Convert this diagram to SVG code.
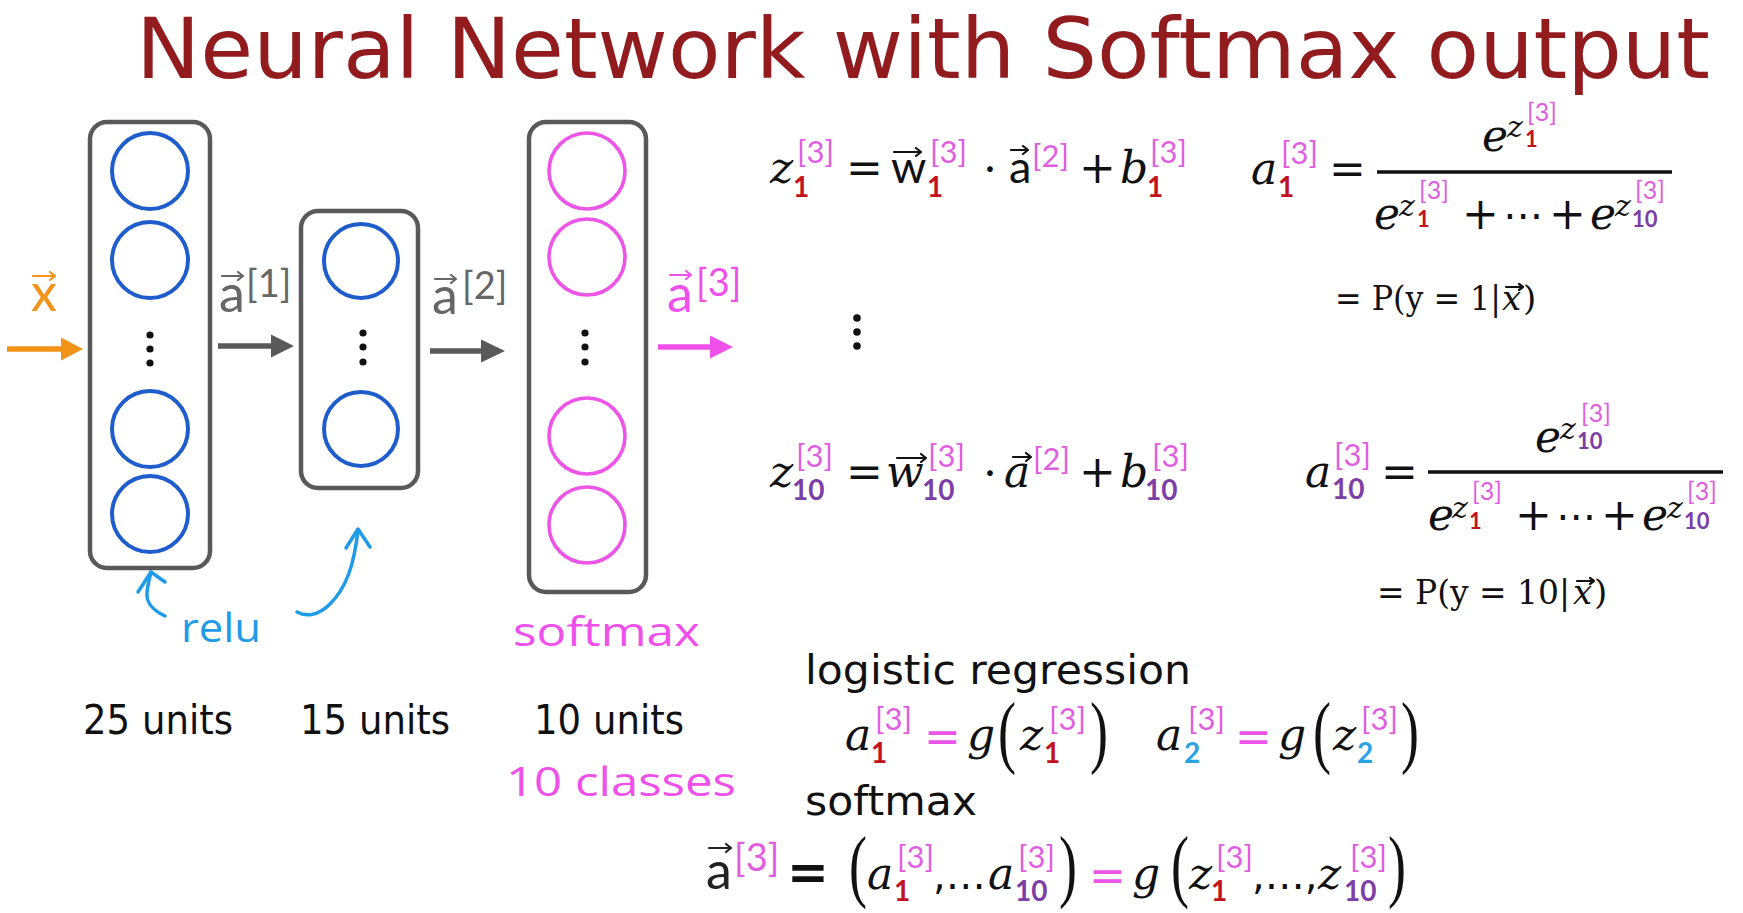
<svg xmlns="http://www.w3.org/2000/svg" width="1743" height="913" viewBox="0 0 1743 913">
<defs>
<style>
.box{fill:none;stroke:#595959;stroke-width:4.5}
.nb{fill:none;stroke:#1f5ccc;stroke-width:4}
.nm{fill:none;stroke:#ec55e6;stroke-width:3.6}
.dot{fill:#111}
.lbl{font-family:Lato,"Liberation Sans",sans-serif;font-size:52px}
.lsup{font-family:Lato,"Liberation Sans",sans-serif;font-size:38px}
.units{font-family:"DejaVu Sans",Verdana,sans-serif;font-size:40px;fill:#111}
.hand{font-family:"Open Sans",sans-serif;font-size:40px}
.mi{font-family:"DejaVu Serif",serif;font-style:italic;font-size:44px;fill:#111}
.mu{font-family:"DejaVu Serif",serif;font-size:44px;fill:#111}
.ms{font-family:Lato,sans-serif;font-size:45px;fill:#111}
.sb{font-family:Lato,sans-serif;font-weight:bold;font-size:28px}
.sp{font-family:Lato,sans-serif;font-size:31px;fill:#e05ee0}
.r{fill:#c1121f}.p{fill:#7b3fa6}.b2{fill:#29a3e6}
.ei{font-family:"DejaVu Serif",serif;font-style:italic;font-size:30px;fill:#111}
.es{font-family:Lato,sans-serif;font-weight:bold;font-size:22px}
.ep{font-family:Lato,sans-serif;font-size:25px;fill:#e05ee0}
.par{font-family:"Liberation Serif",serif;font-size:54px;fill:#111}
.pu{font-family:"DejaVu Serif",serif;font-size:34px;fill:#111}
.pi{font-family:"DejaVu Serif",serif;font-style:italic;font-size:34px;fill:#111}
.vec{fill:none;stroke-width:2.2;stroke-linecap:round;stroke-linejoin:round}
.eqm{font-family:"DejaVu Sans",sans-serif;font-size:44px;fill:#ea55e8}
.ell{font-family:"DejaVu Sans",sans-serif;font-size:40px;fill:#111}
</style>
</defs>
<rect width="1743" height="913" fill="#ffffff"/>

<text id="title" x="136" y="78" font-family="DejaVu Sans, Verdana, sans-serif" font-size="84" fill="#921b1e" textLength="1574" lengthAdjust="spacingAndGlyphs">Neural Network with Softmax output</text>

<g id="layer1">
<rect class="box" x="90" y="122" width="120" height="446" rx="17"/>
<circle class="nb" cx="150" cy="171" r="38"/>
<circle class="nb" cx="150" cy="260" r="38"/>
<circle class="dot" cx="150" cy="335" r="3.6"/>
<circle class="dot" cx="150" cy="349" r="3.6"/>
<circle class="dot" cx="150" cy="363" r="3.6"/>
<circle class="nb" cx="150" cy="429" r="38"/>
<circle class="nb" cx="150" cy="514" r="38"/>
</g>
<g id="layer2">
<rect class="box" x="301" y="211" width="117" height="277" rx="17"/>
<circle class="nb" cx="361" cy="261" r="37"/>
<circle class="dot" cx="363" cy="333" r="3.6"/>
<circle class="dot" cx="363" cy="347" r="3.6"/>
<circle class="dot" cx="363" cy="362" r="3.6"/>
<circle class="nb" cx="361" cy="429" r="37"/>
</g>
<g id="layer3">
<rect class="box" x="529" y="122" width="117" height="470" rx="17"/>
<circle class="nm" cx="587" cy="171" r="38"/>
<circle class="nm" cx="587" cy="257" r="38"/>
<circle class="dot" cx="585" cy="333" r="3.6"/>
<circle class="dot" cx="585" cy="347" r="3.6"/>
<circle class="dot" cx="585" cy="362" r="3.6"/>
<circle class="nm" cx="587" cy="436" r="38"/>
<circle class="nm" cx="587" cy="525" r="38"/>
</g>

<g id="connectors">
<line x1="7" y1="349" x2="64" y2="349" stroke="#f39219" stroke-width="5.5"/>
<polygon points="61,337.5 83,349 61,360.5" fill="#f39219"/>
<line x1="218" y1="346" x2="274" y2="346" stroke="#595959" stroke-width="5.5"/>
<polygon points="271,334.5 294,346 271,357.5" fill="#595959"/>
<line x1="430" y1="351" x2="484" y2="351" stroke="#595959" stroke-width="5.5"/>
<polygon points="481,339.5 505,351 481,362.5" fill="#595959"/>
<line x1="658" y1="347" x2="713" y2="347" stroke="#f050ea" stroke-width="5.5"/>
<polygon points="710,335.5 733,347 710,358.5" fill="#f050ea"/>
<g fill="none" stroke="#1f9be8" stroke-width="3.5" stroke-linecap="round" stroke-linejoin="round">
<path d="M165 616 C152 610 146 603 147 592 C148 583 150 577 151 572"/>
<path d="M138 592 L151 572 L165 582"/>
<path d="M297 612 C306 617 318 616 330 604 C346 588 354 566 358 530"/>
<path d="M346 548 L358 529 L370 547"/>
</g>
</g>

<g id="net-labels">
<text class="lbl" x="31" y="311" fill="#f39219">x</text>
<path class="vec" stroke="#f39219" d="M33 276 H55 M50 272 L55 276 L50 280"/>
<text class="lbl" x="219" y="312" fill="#666666">a</text>
<path class="vec" stroke="#666666" d="M222 276 H243 M238 272 L243 276 L238 280"/>
<text class="lsup" x="246" y="297" fill="#666666">[1]</text>
<text class="lbl" x="432" y="314" fill="#666666">a</text>
<path class="vec" stroke="#666666" d="M435 279 H456 M451 275 L456 279 L451 283"/>
<text class="lsup" x="462" y="299" fill="#666666">[2]</text>
<text class="lbl" x="667" y="312" fill="#f050ea">a</text>
<path class="vec" stroke="#f050ea" d="M670 275 H691 M686 271 L691 275 L686 279"/>
<text class="lsup" x="696" y="296" fill="#f050ea">[3]</text>
<text class="hand" x="181" y="642" fill="#1f9be8" textLength="80" lengthAdjust="spacingAndGlyphs">relu</text>
<text class="hand" x="513" y="646" fill="#f050ea" font-size="42" textLength="187" lengthAdjust="spacingAndGlyphs">softmax</text>
<text class="units" x="83" y="734" textLength="150" lengthAdjust="spacingAndGlyphs">25 units</text>
<text class="units" x="300" y="734" textLength="150" lengthAdjust="spacingAndGlyphs">15 units</text>
<text class="units" x="534" y="734" textLength="150" lengthAdjust="spacingAndGlyphs">10 units</text>
<text class="hand" x="506" y="796" fill="#f050ea" font-size="44" textLength="230" lengthAdjust="spacingAndGlyphs">10 classes</text>
</g>

<g id="eq-z1">
<text class="mi" x="770" y="183">z</text>
<text class="sb r" x="793" y="197">1</text>
<text class="sp" x="797" y="163">[3]</text>
<text class="mu" x="846" y="183">=</text>
<text class="ms" x="891" y="183">w</text>
<path class="vec" stroke="#111" d="M894 152 H921 M916 148 L921 152 L916 156"/>
<text class="sb r" x="927" y="197">1</text>
<text class="sp" x="930" y="163">[3]</text>
<text class="mu" x="983" y="185">·</text>
<text class="ms" x="1009" y="183">a</text>
<path class="vec" stroke="#111" d="M1011 150 H1028 M1023 146 L1028 150 L1023 154"/>
<text class="sp" x="1032" y="167">[2]</text>
<text class="mu" x="1079" y="183">+</text>
<text class="mi" x="1120" y="183">b</text>
<text class="sb r" x="1147" y="197">1</text>
<text class="sp" x="1150" y="163">[3]</text>
</g>

<g id="vdots">
<circle class="dot" cx="857" cy="318" r="3.8"/>
<circle class="dot" cx="857" cy="332" r="3.8"/>
<circle class="dot" cx="857" cy="346" r="3.8"/>
</g>

<g id="eq-z10">
<text class="mi" x="770" y="487">z</text>
<text class="sb p" x="792" y="500">10</text>
<text class="sp" x="796" y="467">[3]</text>
<text class="mu" x="846" y="487">=</text>
<text class="mi" x="886" y="487">w</text>
<path class="vec" stroke="#111" d="M897 458 H926 M921 454 L926 458 L921 462"/>
<text class="sb p" x="922" y="500">10</text>
<text class="sp" x="928" y="467">[3]</text>
<text class="mu" x="983" y="489">·</text>
<text class="mi" x="1004" y="487">a</text>
<path class="vec" stroke="#111" d="M1013 457 H1031 M1026 453 L1031 457 L1026 461"/>
<text class="sp" x="1033" y="470">[2]</text>
<text class="mu" x="1079" y="487">+</text>
<text class="mi" x="1120" y="487">b</text>
<text class="sb p" x="1145" y="500">10</text>
<text class="sp" x="1152" y="467">[3]</text>
</g>

<g id="eq-a1">
<text class="mi" x="1251" y="184">a</text>
<text class="sb r" x="1278" y="197">1</text>
<text class="sp" x="1281" y="164">[3]</text>
<text class="mu" x="1329" y="184">=</text>
<line x1="1377" y1="172" x2="1672" y2="172" stroke="#111" stroke-width="3.5"/>
<text class="mi" x="1482" y="151" font-size="48">e</text>
<text class="ei" x="1507" y="137">z</text>
<text class="es r" x="1525" y="147">1</text>
<text class="ep" x="1527" y="121">[3]</text>
<text class="mi" x="1374" y="229" font-size="48">e</text>
<text class="ei" x="1399" y="216">z</text>
<text class="es r" x="1417" y="227">1</text>
<text class="ep" x="1419" y="199">[3]</text>
<text class="mu" x="1462" y="229">+</text>
<text class="ell" x="1503" y="229">⋯</text>
<text class="mu" x="1549" y="229">+</text>
<text class="mi" x="1590" y="229" font-size="48">e</text>
<text class="ei" x="1615" y="216">z</text>
<text class="es p" x="1632" y="227">10</text>
<text class="ep" x="1635" y="199">[3]</text>
<text class="pu" x="1335" y="310" textLength="166" lengthAdjust="spacingAndGlyphs">= P(y = 1|</text>
<text class="pi" x="1502" y="310">x</text>
<text class="pu" x="1523" y="310">)</text>
<path class="vec" stroke="#111" stroke-width="1.8" d="M1506 287 H1523 M1519 284 L1523 287 L1519 290"/>
</g>

<g id="eq-a10">
<text class="mi" x="1305" y="487">a</text>
<text class="sb p" x="1332" y="499">10</text>
<text class="sp" x="1334" y="466">[3]</text>
<text class="mu" x="1381" y="487">=</text>
<line x1="1428" y1="472" x2="1723" y2="472" stroke="#111" stroke-width="3.5"/>
<text class="mi" x="1535" y="452" font-size="48">e</text>
<text class="ei" x="1560" y="439">z</text>
<text class="es p" x="1577" y="449">10</text>
<text class="ep" x="1581" y="422">[3]</text>
<text class="mi" x="1428" y="530" font-size="48">e</text>
<text class="ei" x="1452" y="518">z</text>
<text class="es r" x="1469" y="529">1</text>
<text class="ep" x="1472" y="500">[3]</text>
<text class="mu" x="1515" y="530">+</text>
<text class="ell" x="1556" y="530">⋯</text>
<text class="mu" x="1601" y="530">+</text>
<text class="mi" x="1642" y="530" font-size="48">e</text>
<text class="ei" x="1667" y="518">z</text>
<text class="es p" x="1684" y="529">10</text>
<text class="ep" x="1687" y="500">[3]</text>
<text class="pu" x="1377" y="604" textLength="193" lengthAdjust="spacingAndGlyphs">= P(y = 10|</text>
<text class="pi" x="1573" y="604">x</text>
<text class="pu" x="1594" y="604">)</text>
<path class="vec" stroke="#111" stroke-width="1.8" d="M1577 581 H1594 M1590 578 L1594 581 L1590 584"/>
</g>

<g id="logistic">
<text class="units" x="805" y="684" textLength="386" lengthAdjust="spacingAndGlyphs">logistic regression</text>
<text class="mi" x="845" y="750">a</text>
<text class="sb r" x="871" y="763">1</text>
<text class="sp" x="875" y="730">[3]</text>
<text class="eqm" x="924" y="752">=</text>
<text class="mi" x="967" y="750">g</text>
<text class="par" transform="translate(998 758) scale(1 1.5)">(</text>
<text class="mi" x="1020" y="750">z</text>
<text class="sb r" x="1044" y="763">1</text>
<text class="sp" x="1049" y="730">[3]</text>
<text class="par" transform="translate(1090 758) scale(1 1.5)">)</text>
<text class="mi" x="1156" y="750">a</text>
<text class="sb b2" x="1184" y="763">2</text>
<text class="sp" x="1188" y="730">[3]</text>
<text class="eqm" x="1235" y="752">=</text>
<text class="mi" x="1278" y="750">g</text>
<text class="par" transform="translate(1313 758) scale(1 1.5)">(</text>
<text class="mi" x="1333" y="750">z</text>
<text class="sb b2" x="1357" y="763">2</text>
<text class="sp" x="1361" y="730">[3]</text>
<text class="par" transform="translate(1401 758) scale(1 1.5)">)</text>
</g>

<g id="softmax-eq">
<text class="units" x="805" y="815" textLength="172" lengthAdjust="spacingAndGlyphs">softmax</text>
<text class="lbl" x="706" y="889" fill="#222222" font-size="54">a</text>
<path class="vec" stroke="#222222" d="M709 848 H731 M726 844 L731 848 L726 852"/>
<text class="lsup" x="734" y="871" fill="#e05ee0">[3]</text>
<text x="787" y="889" font-family="DejaVu Sans, sans-serif" font-weight="bold" font-size="50" fill="#111">=</text>
<text class="par" transform="translate(849 892) scale(1 1.5)">(</text>
<text class="mi" x="867" y="889">a</text>
<text class="sb r" x="894" y="901">1</text>
<text class="sp" x="897" y="868">[3]</text>
<text class="ell" x="933" y="889">,…</text>
<text class="mi" x="988" y="889">a</text>
<text class="sb p" x="1015" y="901">10</text>
<text class="sp" x="1018" y="868">[3]</text>
<text class="par" transform="translate(1059 892) scale(1 1.5)">)</text>
<text class="eqm" x="1089" y="891">=</text>
<text class="mi" x="1132" y="889">g</text>
<text class="par" transform="translate(1171 892) scale(1 1.5)">(</text>
<text class="mi" x="1189" y="889">z</text>
<text class="sb r" x="1211" y="901">1</text>
<text class="sp" x="1216" y="868">[3]</text>
<text class="ell" x="1252" y="889">,…,</text>
<text class="mi" x="1318" y="889">z</text>
<text class="sb p" x="1344" y="901">10</text>
<text class="sp" x="1350" y="868">[3]</text>
<text class="par" transform="translate(1388 892) scale(1 1.5)">)</text>
</g>
</svg>
